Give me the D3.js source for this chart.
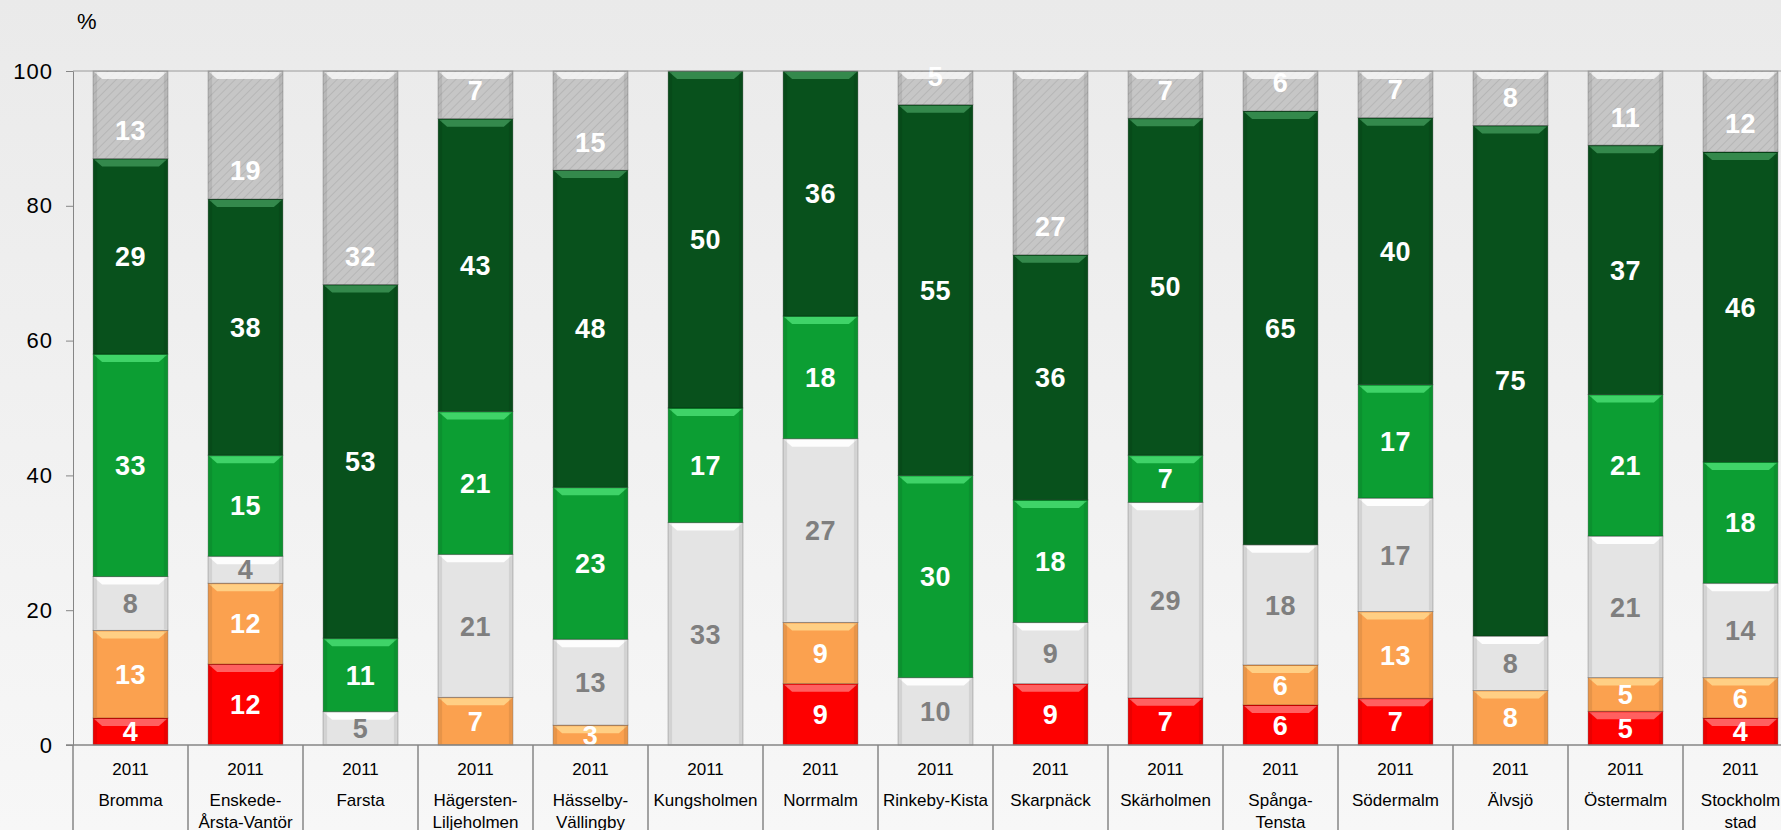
<!DOCTYPE html>
<meta charset="utf-8">
<style>
body { margin: 0; overflow: hidden; }
text { font-family: "Liberation Sans", Arial, sans-serif; }
.tick-label { font-size: 22px; fill: #000; letter-spacing: 1px; }
.cat-label { font-size: 17px; fill: #000; }
.val-label { font-size: 27px; font-weight: bold; letter-spacing: 0.5px; }
</style>
<body>
<svg id="graph"></svg>
<script src="https://d3js.org/d3.v7.min.js"></script>
<script>

// categories (districts), year row and tick labels
var categories = ["Bromma", "Enskede-\nÅrsta-Vantör", "Farsta", "Hägersten-\nLiljeholmen",
  "Hässelby-\nVällingby", "Kungsholmen", "Norrmalm", "Rinkeby-Kista", "Skarpnäck",
  "Skärholmen", "Spånga-\nTensta", "Södermalm", "Älvsjö", "Östermalm", "Stockholm\nstad"];
var years = ["2011", "2011", "2011", "2011", "2011", "2011", "2011", "2011",
  "2011", "2011", "2011", "2011", "2011", "2011", "2011"];
var yTicks = [0, 20, 40, 60, 80, 100];

// series, bottom to top (percent)
var seriesNames = ["red", "orange", "neutral", "green", "darkgreen", "topgrey"];
var red       = [4, 12, 0, 0, 0, 0, 9, 0, 9, 7, 6, 7, 0, 5, 4];
var orange    = [13, 12, 0, 7, 3, 0, 9, 0, 0, 0, 6, 13, 8, 5, 6];
var neutral   = [8, 4, 5, 21, 13, 33, 27, 10, 9, 29, 18, 17, 8, 21, 14];
var green     = [33, 15, 11, 21, 23, 17, 18, 30, 18, 7, 0, 17, 0, 21, 18];
var darkgreen = [29, 38, 53, 43, 48, 50, 36, 55, 36, 50, 65, 40, 75, 37, 46];
var topgrey   = [13, 19, 32, 7, 15, 0, 0, 5, 27, 7, 6, 7, 8, 11, 12];

var fills = {red: "#fe0000", orange: "#fba14f", neutral: "#e4e4e4",
  green: "#0c9e33", darkgreen: "#08511c", topgrey: "url(#hatch)"};
var highlights = {red: "#ff6a6a", orange: "#ffd48a", neutral: "#ffffff",
  green: "#45d86e", darkgreen: "#3a8f52", topgrey: "#f4f4f4"};
var labelColors = {red: "#fff", orange: "#fff", neutral: "#7f7f7f",
  green: "#fff", darkgreen: "#fff", topgrey: "#fff"};

var W = 1781, H = 830;
var margin = {top: 71, left: 73};
var plotH = 674, plotW = 1725;

var svg = d3.select("#graph").attr("width", W).attr("height", H);
var defs = svg.append("defs");

var bg = defs.append("linearGradient").attr("id", "bg")
  .attr("x1", 0).attr("y1", 0).attr("x2", 0).attr("y2", 1);
bg.append("stop").attr("offset", "0%").attr("stop-color", "#eaeaea");
bg.append("stop").attr("offset", "100%").attr("stop-color", "#f7f7f7");

var hatch = defs.append("pattern").attr("id", "hatch")
  .attr("patternUnits", "userSpaceOnUse").attr("width", 6).attr("height", 6)
  .attr("patternTransform", "rotate(45)");
hatch.append("rect").attr("width", 6).attr("height", 6).attr("fill", "#c6c6c6");
hatch.append("line").attr("x1", 0).attr("y1", 0).attr("x2", 0).attr("y2", 6)
  .attr("stroke", "#b6b6b6").attr("stroke-width", 2);

svg.append("rect").attr("width", W).attr("height", H).attr("fill", "url(#bg)");

// scales
var x = d3.scaleBand().domain(categories)
  .range([margin.left, margin.left + plotW])
  .paddingInner(0.35).paddingOuter(0.175);
var y = d3.scaleLinear().domain([0, 100]).range([margin.top + plotH, margin.top]);

// data table for the stack
var table = categories.map(function(c, i) {
  return {cat: c, red: red[i], orange: orange[i], neutral: neutral[i],
    green: green[i], darkgreen: darkgreen[i], topgrey: topgrey[i]};
});
var stack = d3.stack().keys(seriesNames).offset(d3.stackOffsetExpand);
var layers = stack(table);

// bars
var g = svg.append("g");
layers.forEach(function(layer) {
  var key = layer.key;
  var segs = layer.filter(function(d) { return d[1] - d[0] > 0; });

  g.selectAll(null).data(segs).enter().append("rect")
    .attr("x", function(d) { return x(d.data.cat); })
    .attr("y", function(d) { return y(d[1] * 100); })
    .attr("width", x.bandwidth())
    .attr("height", function(d) { return y(d[0] * 100) - y(d[1] * 100); })
    .attr("fill", fills[key])
    .attr("stroke", "rgba(0,0,0,0.28)")
    .attr("stroke-width", 1);

  // bevel highlight along top edge
  g.selectAll(null).data(segs).enter().append("path")
    .attr("fill", highlights[key])
    .attr("opacity", 0.9)
    .attr("d", function(d) {
      var x0 = x(d.data.cat) + 1, x1 = x0 + x.bandwidth() - 2;
      var y0 = y(d[1] * 100) + 1;
      var h = Math.min(7, (y(d[0] * 100) - y(d[1] * 100)) / 2);
      return "M" + x0 + "," + y0 + "L" + x1 + "," + y0 +
        "L" + (x1 - 8) + "," + (y0 + h) + "L" + (x0 + 8) + "," + (y0 + h) + "Z";
    });

  // side shading
  g.selectAll(null).data(segs).enter().append("rect")
    .attr("x", function(d) { return x(d.data.cat) + 1; })
    .attr("y", function(d) { return y(d[1] * 100) + 1; })
    .attr("width", 3)
    .attr("height", function(d) { return Math.max(0, y(d[0] * 100) - y(d[1] * 100) - 2); })
    .attr("fill", "rgba(0,0,0,0.08)");
  g.selectAll(null).data(segs).enter().append("rect")
    .attr("x", function(d) { return x(d.data.cat) + x.bandwidth() - 4; })
    .attr("y", function(d) { return y(d[1] * 100) + 1; })
    .attr("width", 3)
    .attr("height", function(d) { return Math.max(0, y(d[0] * 100) - y(d[1] * 100) - 2); })
    .attr("fill", "rgba(0,0,0,0.08)");
});

// value labels (top series sits near the base of its segment)
layers.forEach(function(layer) {
  var key = layer.key;
  var segs = layer.filter(function(d) { return d.data[key] > 0; });
  g.selectAll(null).data(segs).enter().append("text")
    .attr("class", "val-label")
    .attr("x", function(d) { return x(d.data.cat) + x.bandwidth() / 2; })
    .attr("y", function(d) {
      if (key === "topgrey") return y(d[0] * 100 + 4.2);
      return y((d[0] + d[1]) / 2 * 100);
    })
    .attr("dy", "0.36em")
    .attr("text-anchor", "middle")
    .attr("fill", labelColors[key])
    .text(function(d) { return d.data[key]; });
});

// y axis
var yAxis = svg.append("g")
  .attr("transform", "translate(" + margin.left + ",0)")
  .call(d3.axisLeft(y).tickValues(yTicks).tickSize(7).tickPadding(13));
yAxis.select(".domain").attr("stroke", "#868686");
yAxis.selectAll(".tick line").attr("stroke", "#868686");
yAxis.selectAll(".tick text").attr("class", "tick-label").attr("font-family", null).attr("font-size", null);

// top border and baseline
svg.append("line").attr("x1", margin.left).attr("x2", W)
  .attr("y1", y(100)).attr("y2", y(100)).attr("stroke", "#9a9a9a");
svg.append("line").attr("x1", margin.left - 7).attr("x2", W)
  .attr("y1", y(0)).attr("y2", y(0)).attr("stroke", "#868686").attr("stroke-width", 1.5);

// category table separators
var step = x.step();
svg.selectAll(null).data(categories).enter().append("line")
  .attr("x1", function(d) { return x(d) - x.paddingInner() * step / 2 + step; })
  .attr("x2", function(d) { return x(d) - x.paddingInner() * step / 2 + step; })
  .attr("y1", y(0)).attr("y2", H)
  .attr("stroke", "#868686").attr("stroke-width", 1.5);
svg.append("line").attr("x1", margin.left).attr("x2", margin.left)
  .attr("y1", y(0)).attr("y2", H).attr("stroke", "#868686").attr("stroke-width", 1.5);

// category labels
var cats = svg.selectAll(null).data(categories).enter().append("text")
  .attr("class", "cat-label")
  .attr("text-anchor", "middle")
  .attr("x", function(d) { return x(d) + x.bandwidth() / 2; });
cats.append("tspan")
  .attr("x", function(d) { return x(d) + x.bandwidth() / 2; })
  .attr("y", 775)
  .text(function(d, i) { return years[i]; });
cats.each(function(d) {
  var t = d3.select(this);
  d.split("\n").forEach(function(line, j) {
    t.append("tspan")
      .attr("x", x(d) + x.bandwidth() / 2)
      .attr("y", 806 + j * 22)
      .text(line);
  });
});

// unit label
svg.append("text").attr("x", 77).attr("y", 29)
  .attr("font-size", "22px").attr("fill", "#000").text("%");

</script>
</body>
